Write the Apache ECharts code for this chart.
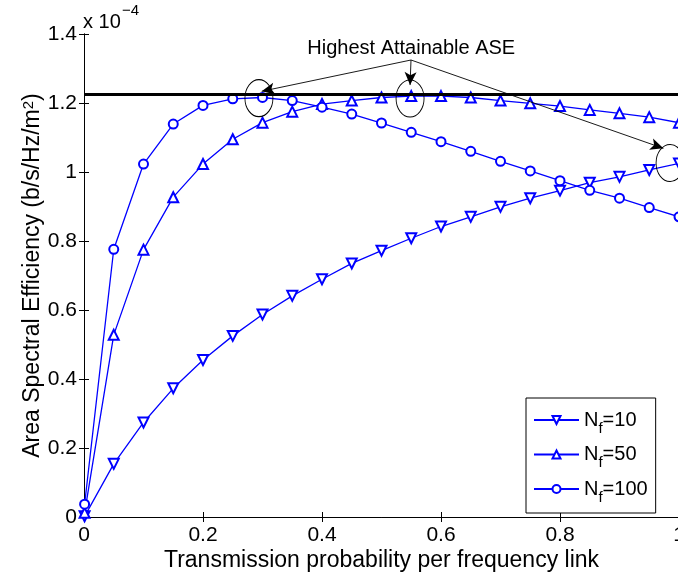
<!DOCTYPE html>
<html>
<head>
<meta charset="utf-8">
<script src="https://cdn.jsdelivr.net/npm/echarts@6/dist/echarts.min.js"></script>
<style>
html,body{margin:0;padding:0;background:#fff;}
#chart{width:678px;height:577px;}
</style>
</head>
<body>
<div id="chart"></div>
<script>
// Data (ASE in units of 1e-4 b/s/Hz/m^2)
const xValues = [0.001, 0.05, 0.1, 0.15, 0.2, 0.25, 0.3, 0.35, 0.4, 0.45, 0.5, 0.55, 0.6, 0.65, 0.7, 0.75, 0.8, 0.85, 0.9, 0.95, 1.0];
const nf10  = [0.002, 0.154, 0.274, 0.373, 0.455, 0.525, 0.587, 0.641, 0.689, 0.735, 0.772, 0.808, 0.842, 0.870, 0.899, 0.924, 0.946, 0.969, 0.986, 1.006, 1.025];
const nf50  = [0.012, 0.528, 0.775, 0.927, 1.023, 1.095, 1.143, 1.175, 1.197, 1.207, 1.216, 1.220, 1.220, 1.216, 1.207, 1.199, 1.191, 1.180, 1.170, 1.159, 1.143];
const nf100 = [0.037, 0.776, 1.023, 1.139, 1.193, 1.212, 1.216, 1.207, 1.188, 1.168, 1.142, 1.115, 1.088, 1.060, 1.031, 1.003, 0.975, 0.947, 0.924, 0.897, 0.870];
const seriesNames = ['Nf=10', 'Nf=50', 'Nf=100'];
const legendLabels = {'Nf=10': '=10', 'Nf=50': '=50', 'Nf=100': '=100'};
const xTicks = [0, 0.2, 0.4, 0.6, 0.8, 1];
const yTicks = [0, 0.2, 0.4, 0.6, 0.8, 1, 1.2, 1.4];
const maxLevel = 1.225;
const annotationText = 'Highest Attainable ASE';
const arrowSource = [0.5496, 1.3246];
const arrowTips = [[0.2986, 1.2339], [0.548, 1.252], [0.9737, 1.0686]];
const ellipseCenters = [[0.294, 1.214], [0.548, 1.213], [0.985, 1.026]];
const textPos = [0.55, 1.359];

const FONT = 'Liberation Sans, Arial, Helvetica, sans-serif';
const BLUE = '#0000ff';

function pairs(ys){ return xValues.map((x,i)=>[x, ys[i]]); }

const chart = echarts.init(document.getElementById('chart'), null, {renderer:'canvas'});

const baseAxisX = {
  type:'value', min:0, max:1, interval:0.2,
  axisLine:{show:true, lineStyle:{color:'#000', width:1}},
  axisTick:{show:true, inside:true, length:5, lineStyle:{color:'#000'}},
  splitLine:{show:false}
};
const baseAxisY = {
  type:'value', min:0, max:1.4, interval:0.2,
  axisLine:{show:true, lineStyle:{color:'#000', width:1}},
  axisTick:{show:true, inside:true, length:5, lineStyle:{color:'#000'}},
  splitLine:{show:false}
};

const symbols = ['emptyTriangle', 'emptyTriangle', 'emptyCircle'];
const rotates = [180, 0, 0];
const sizes = [10, 10, 9];
const datasets = [nf10, nf50, nf100];

const series = datasets.map((d, i) => ({
  name: seriesNames[i],
  type:'line',
  data: pairs(d),
  symbol: symbols[i],
  symbolRotate: rotates[i],
  symbolSize: sizes[i],
  showAllSymbol: true,
  lineStyle:{color:BLUE, width:1.3},
  itemStyle:{color:BLUE, borderWidth:1.3},
  emphasis:{disabled:true},
  animation:false,
  z: 3
}));

// annotations attached to an auxiliary series (no data)
series.push({
  name:'annot', type:'line', data:[], silent:true, animation:false,
  markLine:{
    silent:true, animation:false,
    label:{show:false},
    emphasis:{disabled:true},
    data:[
      [{coord:[0, maxLevel], symbol:'none', lineStyle:{color:'#000', width:3, type:'solid'}},
       {coord:[1, maxLevel], symbol:'none'}]
    ].concat(arrowTips.map(t => [
      {coord:arrowSource, symbol:'none', lineStyle:{color:'#000', width:0.9, type:'solid'}},
      {coord:t, symbol:'arrow', symbolSize:[9,13]}
    ]))
  },
  markPoint:{
    silent:true, animation:false,
    data: ellipseCenters.map(c => ({
      coord:c, symbol:'circle', symbolSize:[28,37],
      itemStyle:{color:'rgba(0,0,0,0)', borderColor:'#000', borderWidth:1},
      label:{show:false}
    })).concat([{
      coord:textPos, symbol:'circle', symbolSize:1,
      itemStyle:{color:'rgba(0,0,0,0)'},
      label:{show:true, position:'inside', formatter:annotationText, color:'#000', fontSize:20, fontFamily:FONT}
    }])
  }
});

const option = {
  backgroundColor:'#fff',
  animation:false,
  grid:{left:84, top:34, width:595, height:483, containLabel:false, outerBoundsMode:'none'},
  xAxis:[
    Object.assign({}, baseAxisX, {
      position:'bottom',
      name:'Transmission probability per frequency link',
      nameLocation:'middle', nameGap:32, nameMoveOverlap:false,
      nameTextStyle:{color:'#000', fontSize:23, fontFamily:FONT},
      axisLabel:{show:true, color:'#000', fontSize:21, fontFamily:FONT, margin:8, hideOverlap:false,
        formatter: v => xTicks.indexOf(+v.toFixed(1)) >= 0 ? String(+v.toFixed(1)) : ''}
    }),
    Object.assign({}, baseAxisX, {position:'top', axisLabel:{show:false}})
  ],
  yAxis:[
    Object.assign({}, baseAxisY, {
      position:'left',
      name:'{a|Area Spectral Efficiency (b/s/Hz/m}{s|2}{a|)}',
      nameLocation:'middle', nameGap:40, nameRotate:90, nameMoveOverlap:false,
      nameTextStyle:{color:'#000', fontSize:23, fontFamily:FONT,
        rich:{
          a:{fontSize:23, fontFamily:FONT, color:'#000', lineHeight:23, verticalAlign:'bottom', padding:[8,0,0,0]},
          s:{fontSize:15, fontFamily:FONT, color:'#000', lineHeight:15, verticalAlign:'top'}
        }},
      axisLabel:{show:true, color:'#000', fontSize:21, fontFamily:FONT, margin:7,
        formatter: v => yTicks.indexOf(+v.toFixed(1)) >= 0 ? String(+v.toFixed(1)) : ''}
    }),
    Object.assign({}, baseAxisY, {position:'right', axisLabel:{show:false}})
  ],
  legend:{
    data:seriesNames,
    orient:'vertical', left:526, top:398,
    backgroundColor:'#fff', borderColor:'#000', borderWidth:1,
    padding:[12,8,8,7],
    itemWidth:45, itemHeight:10, itemGap:8.5,
    selectedMode:false,
    formatter: n => '{n|N}{s|f}{n|' + legendLabels[n] + '}',
    textStyle:{color:'#000', fontSize:20, fontFamily:FONT,
      rich:{
        n:{fontSize:20, fontFamily:FONT, color:'#000', lineHeight:20, verticalAlign:'top'},
        s:{fontSize:15, fontFamily:FONT, color:'#000', lineHeight:20, verticalAlign:'top', padding:[11,0,0,0]}
      }}
  },
  graphic:[
    {type:'text', left:83, top:12, silent:true,
     style:{text:'x 10', fill:'#000', font:'20px ' + FONT}},
    {type:'text', left:122, top:3, silent:true,
     style:{text:'\u22124', fill:'#000', font:'15px ' + FONT}}
  ],
  series: series
};
chart.setOption(option);
</script>
</body>
</html>
